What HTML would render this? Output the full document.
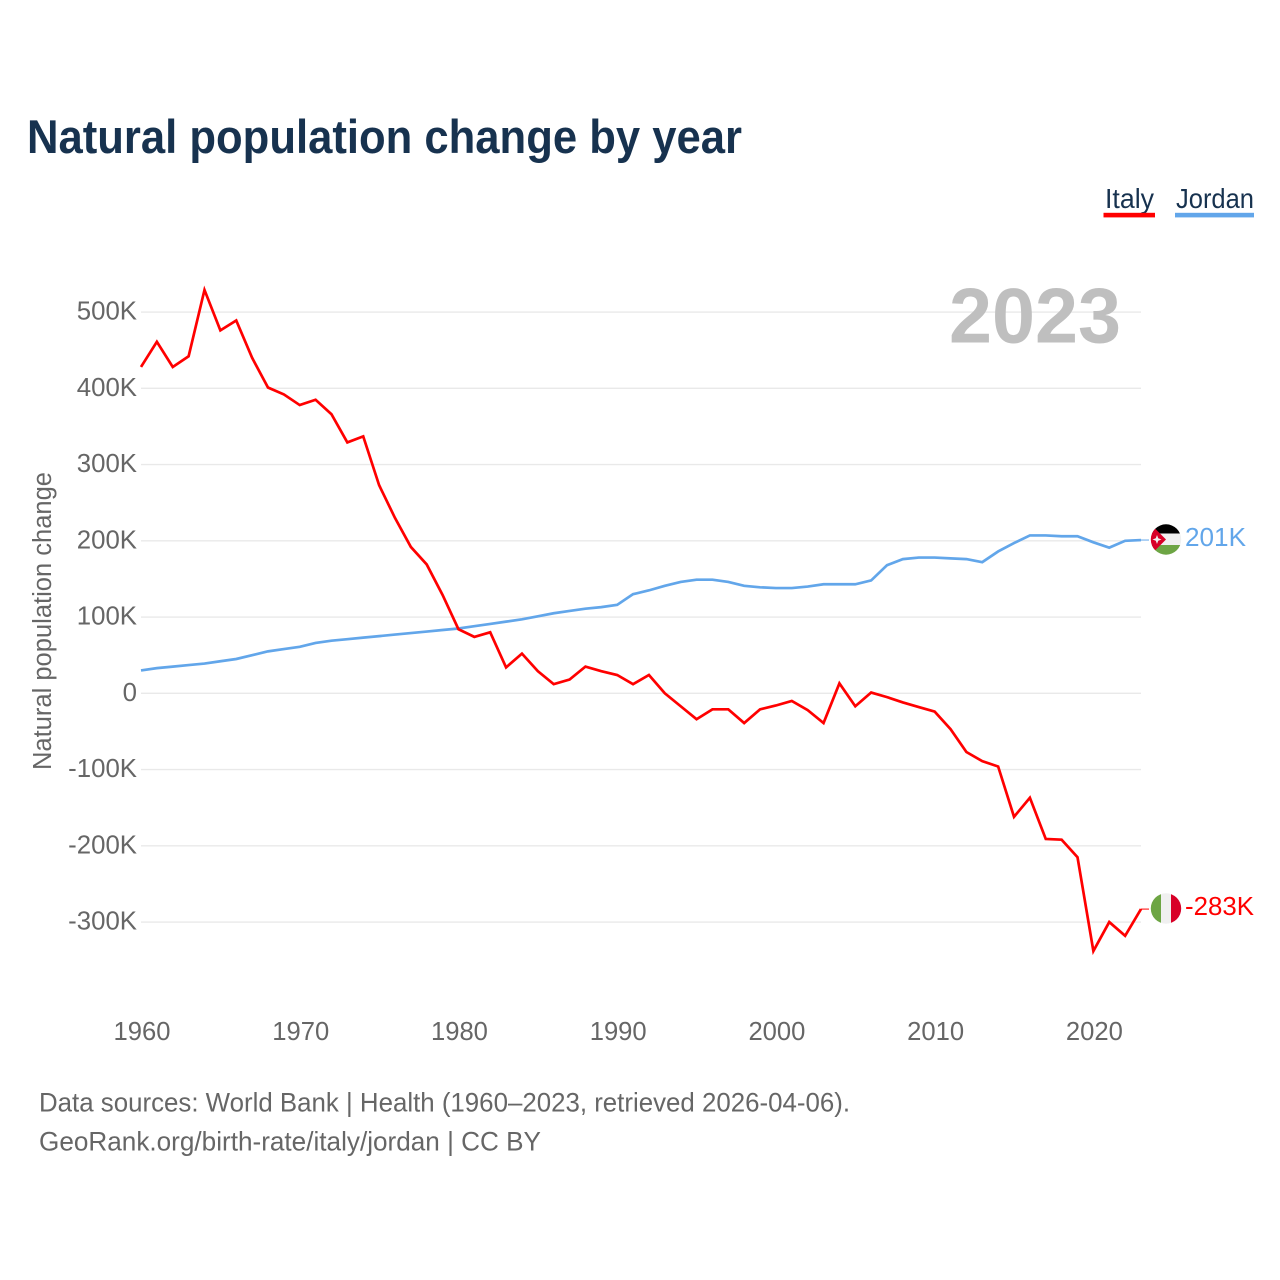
<!DOCTYPE html>
<html lang="en">
<head>
<meta charset="utf-8">
<title>Natural population change by year</title>
<style>
html,body{margin:0;padding:0;background:#fff;}
svg{display:block;}
text{font-family:"Liberation Sans",sans-serif;}
</style>
</head>
<body>
<svg id="chart" xmlns="http://www.w3.org/2000/svg" width="1280" height="1280" viewBox="0 0 1280 1280">
  <defs>
    <clipPath id="flag-clip-jo"><circle cx="1166" cy="539.5" r="15.2"/></clipPath>
    <clipPath id="flag-clip-it"><circle cx="1166" cy="908.5" r="15.2"/></clipPath>
  </defs>
  <text x="27" y="153" font-size="47" font-weight="700" fill="#17324f" textLength="715" lengthAdjust="spacingAndGlyphs">Natural population change by year</text>

  <g>
    <g>
      <text x="1105" y="208" font-size="28" fill="#17324f" textLength="49" lengthAdjust="spacingAndGlyphs">Italy</text>
      <rect x="1103.5" y="212.8" width="51.5" height="4.6" fill="#ff0000"/>
    </g>
    <g>
      <text x="1176" y="208" font-size="28" fill="#17324f" textLength="78" lengthAdjust="spacingAndGlyphs">Jordan</text>
      <rect x="1175" y="212.8" width="79" height="4.6" fill="#62a6ea"/>
    </g>
  </g>

  <g id="grid"></g>
  <text x="949" y="342.5" font-size="78" font-weight="700" fill="#bfbfbf" textLength="172" lengthAdjust="spacingAndGlyphs">2023</text>
  <g id="y-labels"></g>
  <g id="x-labels"></g>
  <text transform="translate(51,621) rotate(-90)" text-anchor="middle" font-size="25.5" fill="#666666" textLength="298" lengthAdjust="spacingAndGlyphs">Natural population change</text>

  <g id="series"></g>

  <g clip-path="url(#flag-clip-jo)">
    <rect x="1150" y="524" width="32" height="9.5" fill="#000000"/>
    <rect x="1150" y="533.5" width="32" height="11.5" fill="#f0f0f0"/>
    <rect x="1150" y="545" width="32" height="10" fill="#6da544"/>
    <polygon points="1150,523.5 1166,539.5 1150,555.5" fill="#d80027"/>
    <polygon points="1157,535 1158.2,538.3 1161.5,539.5 1158.2,540.7 1157,544 1155.8,540.7 1152.5,539.5 1155.8,538.3" fill="#f0f0f0"/>
  </g>
  <g clip-path="url(#flag-clip-it)">
    <rect x="1150" y="893" width="11" height="31" fill="#6da544"/>
    <rect x="1161" y="893" width="10" height="31" fill="#f0f0f0"/>
    <rect x="1171" y="893" width="11" height="31" fill="#d80027"/>
  </g>
  <text x="1185" y="546" font-size="26" fill="#62a6ea" textLength="61" lengthAdjust="spacingAndGlyphs">201K</text>
  <text x="1185" y="915" font-size="26" fill="#ff0000" textLength="69" lengthAdjust="spacingAndGlyphs">-283K</text>

  <g>
    <text x="39" y="1111.5" font-size="26.5" fill="#666666" textLength="811" lengthAdjust="spacingAndGlyphs">Data sources: World Bank | Health (1960–2023, retrieved 2026-04-06).</text>
    <text x="39" y="1150.5" font-size="26.5" fill="#666666" textLength="502" lengthAdjust="spacingAndGlyphs">GeoRank.org/birth-rate/italy/jordan | CC BY</text>
  </g>
</svg>
<script>
const years = [1960,1961,1962,1963,1964,1965,1966,1967,1968,1969,1970,1971,1972,1973,1974,1975,1976,1977,1978,1979,1980,1981,1982,1983,1984,1985,1986,1987,1988,1989,1990,1991,1992,1993,1994,1995,1996,1997,1998,1999,2000,2001,2002,2003,2004,2005,2006,2007,2008,2009,2010,2011,2012,2013,2014,2015,2016,2017,2018,2019,2020,2021,2022,2023];
const italyValues = [428,461,428,442,529,476,489,440,401,392,378,385,366,329,337,273,230,192,169,129,84,74,80,34,52,29,12,18,35,29,24,12,24,0,-17,-34,-21,-21,-39,-21,-16,-10,-22,-39,13,-17,1,-5,-12,-18,-24,-47,-77,-89,-96,-162,-137,-191,-192,-215,-338,-300,-318,-283];
const jordanValues = [30,33,35,37,39,42,45,50,55,58,61,66,69,71,73,75,77,79,81,83,85,88,91,94,97,101,105,108,111,113,116,130,135,141,146,149,149,146,141,139,138,138,140,143,143,143,148,168,176,178,178,177,176,172,186,197,207,207,206,206,198,191,200,201];
const yTicks = [500,400,300,200,100,0,-100,-200,-300];
const yTickLabels = ["500K","400K","300K","200K","100K","0","-100K","-200K","-300K"];
const xTicks = [1960,1970,1980,1990,2000,2010,2020];

const NS = "http://www.w3.org/2000/svg";
function xScale(year){ return 141 + (year - 1960) * (1000 / 63); }
function yScale(value){ return 693.3 - value * 0.7625; }
function make(tag, attrs, parent, content){
  const el = document.createElementNS(NS, tag);
  for (const k in attrs) el.setAttribute(k, attrs[k]);
  if (content !== undefined) el.textContent = content;
  parent.appendChild(el);
  return el;
}

const gridGroup = document.getElementById("grid");
const yLabelGroup = document.getElementById("y-labels");
yTicks.forEach(function(t, i){
  const line = make("line", {x1:141, x2:1141, y1:yScale(t), y2:yScale(t), stroke:"#e9e9e9", "stroke-width":1.4}, gridGroup);
  
  
  const label = make("text", {x:137, y:yScale(t)+7.5, "text-anchor":"end", "font-size":25.8, fill:"#666666"}, yLabelGroup, yTickLabels[i]);
  
  
});

const xLabelGroup = document.getElementById("x-labels");
xTicks.forEach(function(t){
  const label = make("text", {x:xScale(t)+1, y:1040, "text-anchor":"middle", "font-size":25.6, fill:"#666666"}, xLabelGroup, String(t));
  
  
});

function pathFor(values){
  return values.map(function(v, i){
    return (i ? "L" : "M") + xScale(years[i]).toFixed(2) + " " + yScale(v).toFixed(2);
  }).join(" ");
}
const seriesGroup = document.getElementById("series");

const jordanLine = make("path", {d:pathFor(jordanValues), fill:"none", stroke:"#62a6ea", "stroke-width":2.7, "stroke-linejoin":"miter"}, seriesGroup);



const italyLine = make("path", {d:pathFor(italyValues), fill:"none", stroke:"#ff0000", "stroke-width":2.7, "stroke-linejoin":"miter"}, seriesGroup);



const lastYear = years[years.length - 1];
const jordanLast = jordanValues[jordanValues.length - 1];
const italyLast = italyValues[italyValues.length - 1];

const jordanLeader = make("line", {x1:xScale(lastYear), x2:1149, y1:yScale(jordanLast), y2:yScale(jordanLast), stroke:"#62a6ea", "stroke-width":1}, seriesGroup);



const italyLeader = make("line", {x1:xScale(lastYear), x2:1149, y1:yScale(italyLast), y2:yScale(italyLast), stroke:"#ff0000", "stroke-width":1}, seriesGroup);


</script>
</body>
</html>
